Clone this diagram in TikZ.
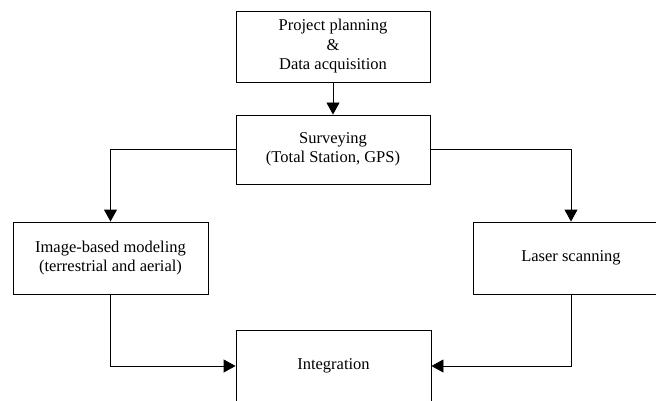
\documentclass[tikz,border=0pt]{standalone}
\usepackage{fontspec}
\setmainfont{Liberation Serif}
\usetikzlibrary{arrows.meta}
\tikzset{
    stage/.style={draw, line width=0.9pt, align=center, inner sep=2pt,
        font=\fontsize{16.5}{19.5}\selectfont},
    flow/.style={line width=0.9pt, -{Triangle[width=13pt,length=12pt]}}
}
\begin{document}
\begin{tikzpicture}[x=1pt,y=-1pt]
     \useasboundingbox (0,0) rectangle (656,401);
     \clip (0,0) rectangle (656,401);

     \node [stage, minimum width=194pt, minimum height=71pt] (plan) at (333,46.5)
          {Project planning\\ \&\\ Data acquisition};
     \node [stage, minimum width=194pt, minimum height=69pt] (survey) at (333,149.5)
          {Surveying\\ (Total Station, GPS)};
     \node [stage, minimum width=195pt, minimum height=72pt] (image) at (110.5,258)
          {Image-based modeling\\ (terrestrial and aerial)};
     \node [stage, minimum width=195pt, minimum height=72pt] (laser) at (571,258)
          {Laser scanning};
     \node [stage, minimum width=195pt, minimum height=72pt] (integ) at (333.5,366)
          {Integration};

     \draw [flow] (plan) -- (survey);
     \draw [flow] (survey.west) -| (image.north);
     \draw [flow] (survey.east) -| (laser.north);
     \draw [flow] (image.south) |- (integ.west);
     \draw [flow] (laser.south) |- (integ.east);
\end{tikzpicture}
\end{document}
